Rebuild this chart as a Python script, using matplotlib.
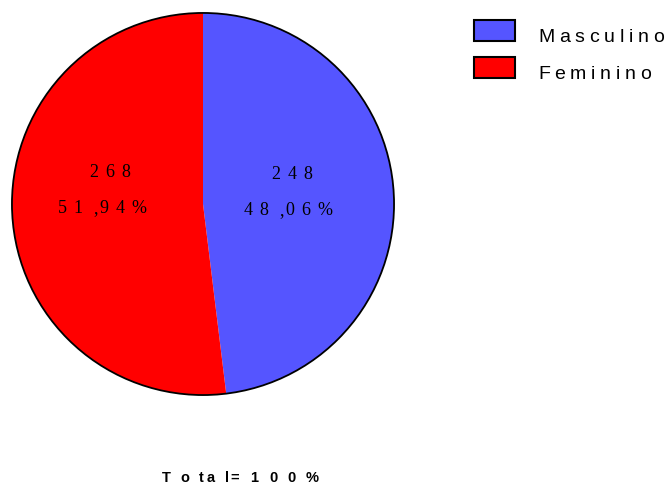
import matplotlib
matplotlib.use('Agg')
import matplotlib.pyplot as plt
from matplotlib.patches import Rectangle
from matplotlib.font_manager import FontProperties

labels = ['Masculino', 'Feminino']
counts = [248, 268]
percents = [48.06, 51.94]
colors = ['#5555FF', '#FF0000']
total_label = 'Total=100%'

W, H = 672, 484
fig = plt.figure(figsize=(W / 100, H / 100), dpi=100)
renderer = fig.canvas.get_renderer()


def tracked(x, y, s, prop, gap=7.0, extra=None, ha='center'):
    """Draw s letter by letter with extra spacing; x, y in pixels from top-left,
    y is the baseline. extra maps a gap index to its own width."""
    widths = [renderer.get_text_width_height_descent(c, prop, ismath=False)[0]
              for c in s]
    gaps = [gap] * (len(s) - 1)
    for k, v in (extra or {}).items():
        gaps[k] = v
    total = sum(widths) + sum(gaps)
    cx = x - total / 2 if ha == 'center' else x
    for i, c in enumerate(s):
        fig.text(cx / W, 1 - y / H, c, ha='left', va='baseline',
                 fontproperties=prop)
        cx += widths[i] + (gaps[i] if i < len(gaps) else 0)


# pie axes placed in pixel units
ax = fig.add_axes([11 / W, (H - 396) / H, 384 / W, 384 / H])
ax.pie(counts, colors=colors, startangle=90, counterclock=False,
       wedgeprops=dict(linewidth=0))
ax.add_patch(plt.Circle((0, 0), 1, fill=False, edgecolor='black', linewidth=1.3))
ax.set_xlim(-1.005, 1.005)
ax.set_ylim(-1.005, 1.005)
ax.set_aspect('equal')
ax.axis('off')

serif = FontProperties(family='Liberation Serif', size=13)
# count / percentage labels inside each slice: (x centre, count baseline, pct x, pct baseline)
label_pos = [(292, 179, 288, 215), (110, 177, 102, 213)]
for (x1, yb1, x2, yb2), n, pct in zip(label_pos, counts, percents):
    tracked(x1, yb1, str(n), serif, gap=7)
    txt = f'{pct:.2f}'.replace('.', ',') + '%'
    tracked(x2, yb2, txt, serif, gap=7, extra={1: 11, 2: 1.5})

# legend drawn by hand
sans = FontProperties(family='Liberation Sans', size=14)
for i, (lab, col) in enumerate(zip(labels, colors)):
    y0 = 20 + i * 37
    fig.patches.append(Rectangle((474 / W, 1 - (y0 + 21) / H), 41 / W, 21 / H,
                                 transform=fig.transFigure, facecolor=col,
                                 edgecolor='black', linewidth=1.5))
    tracked(538, y0 + 22, lab, sans, gap=4.7, ha='left')

bold = FontProperties(family='Liberation Sans', size=10.5, weight='bold')
tracked(240, 482, total_label, bold, gap=9.8,
        extra={2: 3, 4: 2, 5: 11, 6: 11})

fig.savefig('out.png', dpi=100)
